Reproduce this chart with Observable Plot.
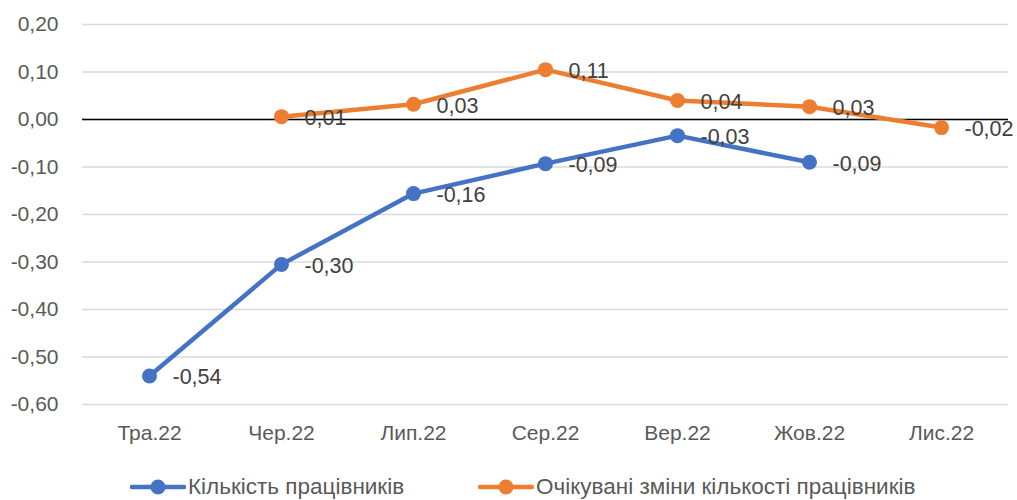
<!DOCTYPE html>
<html>
<head>
<meta charset="utf-8">
<script src="https://cdn.jsdelivr.net/npm/d3@7"></script>
<script src="https://cdn.jsdelivr.net/npm/@observablehq/plot@0.6"></script>
<style>
  body { margin: 0; background: #fff; font-family: "Liberation Sans", Arial, sans-serif; }
  #wrap { position: relative; width: 1017px; height: 500px; overflow: hidden; }
  .leg { position: absolute; top: 474px; height: 26px; display: flex; align-items: center; font-size: 22.5px; line-height: 26px; color: #595959; white-space: nowrap; }
  .leg svg { margin-right: 2px; }
</style>
</head>
<body>
<div id="wrap">
  <div id="chart"></div>
</div>
<script>
const months = ["Тра.22", "Чер.22", "Лип.22", "Сер.22", "Вер.22", "Жов.22", "Лис.22"];
const workers = [-0.54, -0.305, -0.156, -0.093, -0.034, -0.09, null];
const expected = [null, 0.006, 0.032, 0.105, 0.04, 0.027, -0.017];
const workersLabels = ["-0,54", "-0,30", "-0,16", "-0,09", "-0,03", "-0,09", null];
const expectedLabels = [null, "0,01", "0,03", "0,11", "0,04", "0,03", "-0,02"];
const seriesNames = ["Кількість працівників", "Очікувані зміни кількості працівників"];
const colors = ["#4472c4", "#ed7d31"];
const yTicks = [0.2, 0.1, 0, -0.1, -0.2, -0.3, -0.4, -0.5, -0.6];

const rows = [];
months.forEach((m, i) => {
  if (workers[i] !== null) rows.push({month: m, value: workers[i], label: workersLabels[i], series: seriesNames[0]});
});
months.forEach((m, i) => {
  if (expected[i] !== null) rows.push({month: m, value: expected[i], label: expectedLabels[i], series: seriesNames[1]});
});

const fmt = d => d.toFixed(2).replace(".", ",");

const plot = Plot.plot({
  width: 1017,
  height: 460,
  marginLeft: 82,
  marginRight: 9,
  marginTop: 24,
  marginBottom: 56,
  style: {fontFamily: "'Liberation Sans', Arial, sans-serif", fontSize: "21px", background: "#fff", overflow: "visible"},
  x: {type: "point", domain: months, padding: 0.5, label: null},
  y: {domain: [-0.6, 0.2], label: null},
  color: {domain: seriesNames, range: colors},
  marks: [
    Plot.gridY(yTicks, {stroke: "#d9d9d9", strokeOpacity: 1, strokeWidth: 1.3}),
    Plot.ruleY([0], {stroke: "#000", strokeWidth: 1.5}),
    Plot.axisY(yTicks, {tickSize: 0, tickPadding: 24, tickFormat: fmt, fill: "#595959", fontSize: 21, label: null}),
    Plot.axisX(months, {tickSize: 0, tickPadding: 21, fill: "#595959", fontSize: 21, label: null}),
    Plot.line(rows, {x: "month", y: "value", z: "series", stroke: "series", strokeWidth: 4.5}),
    Plot.dot(rows, {x: "month", y: "value", fill: "series", r: 7.5}),
    Plot.text(rows, {x: "month", y: "value", text: "label", textAnchor: "start", lineAnchor: "middle", dx: 23, dy: 1.5, fill: "#404040", fontSize: 21.5})
  ]
});
document.getElementById("chart").appendChild(plot);

// legend
const wrap = document.getElementById("wrap");
const legLefts = [130, 478];
seriesNames.forEach((name, i) => {
  const d = document.createElement("div");
  d.className = "leg";
  d.style.left = legLefts[i] + "px";
  d.innerHTML = `<svg width="56" height="24"><line x1="2" y1="12" x2="54" y2="12" stroke="${colors[i]}" stroke-width="4.5" stroke-linecap="round"/><circle cx="28" cy="12" r="7.5" fill="${colors[i]}"/></svg><span>${name}</span>`;
  wrap.appendChild(d);
});
</script>
</body>
</html>
